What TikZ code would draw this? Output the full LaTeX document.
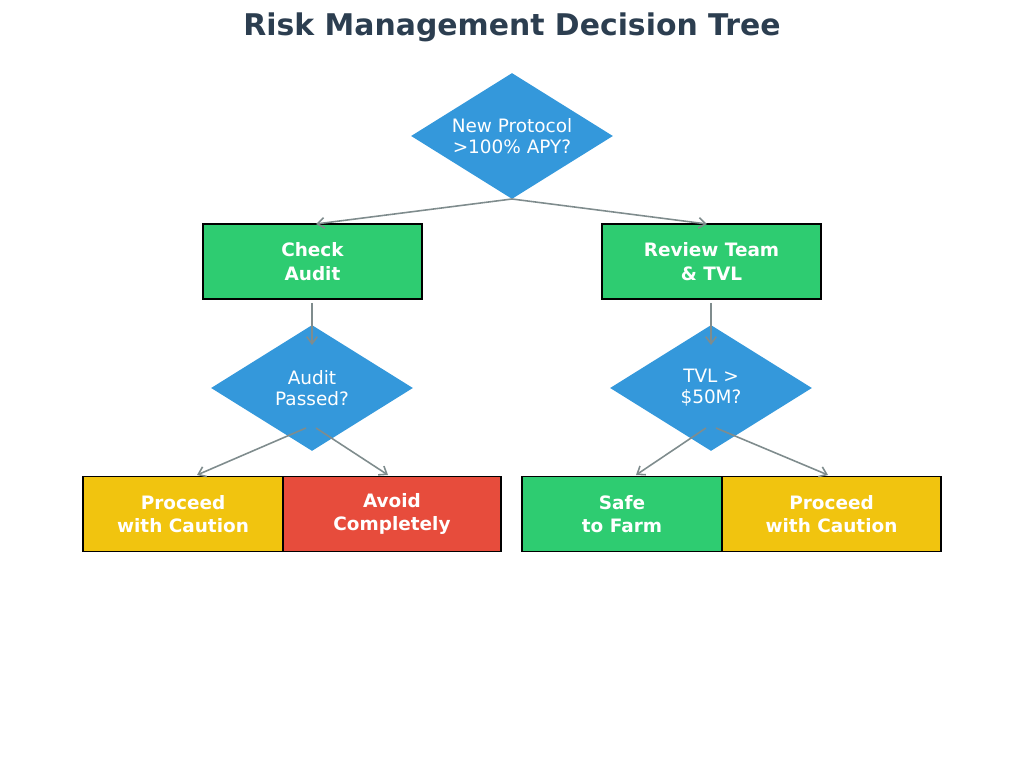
\documentclass[tikz,border=0pt]{standalone}
\usepackage{fontspec}
\setmainfont{DejaVu Sans}
\usetikzlibrary{arrows.meta,shapes.geometric}
\definecolor{tcol}{HTML}{2C3E50}
\definecolor{dblue}{HTML}{3498DB}
\definecolor{bgreen}{HTML}{2ECC71}
\definecolor{byel}{HTML}{F1C40F}
\definecolor{bred}{HTML}{E74C3C}
\definecolor{agray}{HTML}{7F8C8D}
\begin{document}
\begin{tikzpicture}[x=0.02cm,y=-0.02cm,
  dia/.style={diamond,fill=dblue,text=white,minimum width=4.04cm,minimum height=2.52cm,aspect=1.6,inner sep=0pt,font=\fontsize{10.5}{12}\selectfont,align=center},
  bx/.style={draw=black,line width=0.8pt,text=white,font=\bfseries\fontsize{10.5}{13.5}\selectfont,align=center,minimum height=1.5cm,inner sep=0pt},
  conn/.style={draw=agray,line width=0.9pt,-{Straight Barb[length=4pt,width=6pt]}}]
\useasboundingbox (0,0) rectangle (1024,780);
\node[font=\bfseries\fontsize{17}{20}\selectfont,text=tcol] (title) at (512,27) {Risk Management Decision Tree};
\node[dia] (d0) at (512,136) {New Protocol\\>100\% APY?};
\node[bx,fill=bgreen,minimum width=4.38cm] (b1) at (312.5,261.5) {Check\\Audit};
\node[bx,fill=bgreen,minimum width=4.38cm] (b2) at (711.5,261.5) {Review Team\\\& TVL};
\node[dia] (d1) at (312,388) {Audit\\Passed?};
\node[dia] (d2) at (711,388) {TVL >\\\$50M?};
\node[bx,fill=byel,minimum width=4.0cm] (l1) at (183,514) {Proceed\\with Caution};
\node[bx,fill=bred,minimum width=4.36cm] (l2) at (392,514) {Avoid\\Completely};
\node[bx,fill=bgreen,minimum width=4.0cm] (l3) at (622,514) {Safe\\to Farm};
\node[bx,fill=byel,minimum width=4.38cm] (l4) at (831.5,514) {Proceed\\with Caution};
\coordinate (a0) at (512,199);
\coordinate (a1) at (316,224);
\coordinate (a2) at (707,224);
\coordinate (c1) at (312,303); \coordinate (e1) at (312,345);
\coordinate (c2) at (711,303); \coordinate (e2) at (711,345);
\coordinate (s1) at (306,428); \coordinate (t1) at (197,475);
\coordinate (s2) at (316,428); \coordinate (t2) at (388,475);
\coordinate (s3) at (706,428); \coordinate (t3) at (636,475);
\coordinate (s4) at (716,428); \coordinate (t4) at (828,475);
\draw[conn] (a0) -- (a1);
\draw[conn] (a0) -- (a2);
\draw[conn] (c1) -- (e1);
\draw[conn] (c2) -- (e2);
\draw[conn] (s1) -- (t1);
\draw[conn] (s2) -- (t2);
\draw[conn] (s3) -- (t3);
\draw[conn] (s4) -- (t4);
\end{tikzpicture}
\end{document}
